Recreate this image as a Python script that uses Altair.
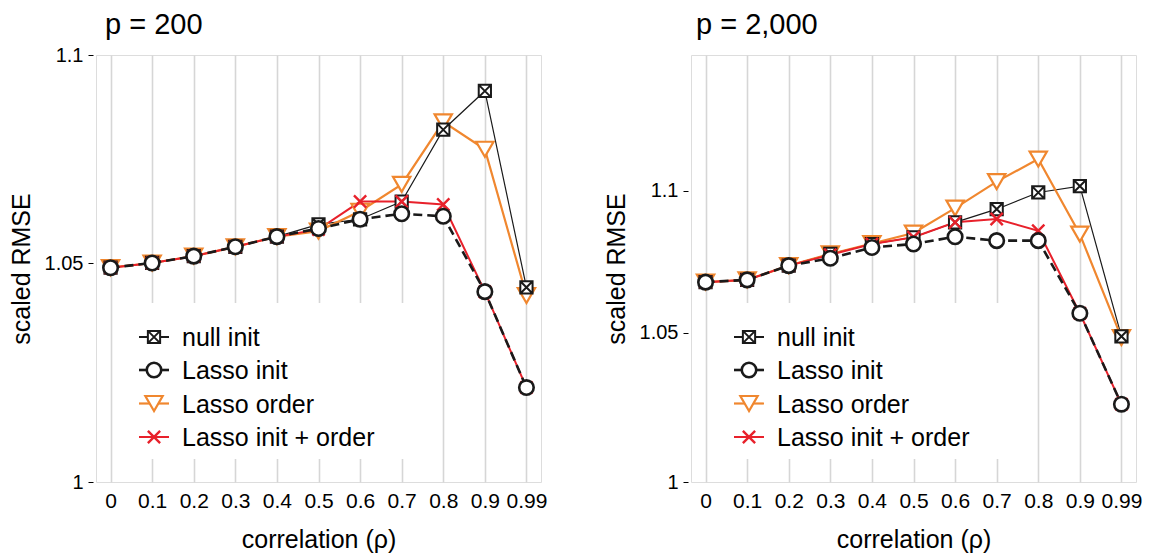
import altair as alt
import pandas as pd

FONT = "Liberation Sans"

rho_labels = ["0", "0.1", "0.2", "0.3", "0.4", "0.5", "0.6", "0.7", "0.8", "0.9", "0.99"]
series_names = ["null init", "Lasso init", "Lasso order", "Lasso init + order"]

# p = 200
p200_null_init = [1.0490, 1.0501, 1.0517, 1.0539, 1.0563, 1.0592, 1.0604, 1.0646, 1.0818, 1.0912, 1.0444]
p200_lasso_init = [1.0490, 1.0501, 1.0517, 1.0539, 1.0563, 1.0582, 1.0604, 1.0617, 1.0611, 1.0434, 1.0213]
p200_lasso_order = [1.0490, 1.0501, 1.0517, 1.0539, 1.0563, 1.0576, 1.0623, 1.0687, 1.0837, 1.0771, 1.0425]
p200_init_order = [1.0490, 1.0501, 1.0517, 1.0539, 1.0563, 1.0580, 1.0646, 1.0646, 1.0639, 1.0434, 1.0213]

# p = 2,000
p2000_null_init = [1.0676, 1.0684, 1.0734, 1.0775, 1.0810, 1.0834, 1.0887, 1.0934, 1.0994, 1.1017, 1.0488]
p2000_lasso_init = [1.0676, 1.0684, 1.0734, 1.0760, 1.0798, 1.0810, 1.0836, 1.0822, 1.0822, 1.0568, 1.0258]
p2000_lasso_order = [1.0676, 1.0684, 1.0734, 1.0775, 1.0812, 1.0849, 1.0938, 1.1033, 1.1115, 1.0845, 1.0484]
p2000_init_order = [1.0676, 1.0684, 1.0734, 1.0772, 1.0810, 1.0834, 1.0887, 1.0899, 1.0857, 1.0568, 1.0258]

y_ticks = [1, 1.05, 1.1]

BLACK = "#1a1a1a"
ORANGE = "#F0872F"
RED = "#E8212B"

SQ_X = "M-1,-1L1,-1L1,1L-1,1Z M-1,-1L1,1 M1,-1L-1,1"
X_SHAPE = "M-1,-1L1,1 M1,-1L-1,1"

styles = {
    "null init": dict(color=BLACK, lw=1.2, dash=None, shape=SQ_X, size=150, sw=2.0, fill="white"),
    "Lasso init": dict(color=BLACK, lw=2.6, dash=[9, 5], shape="circle", size=210, sw=2.6, fill="white"),
    "Lasso order": dict(color=ORANGE, lw=2.2, dash=None, shape="triangle-down", size=300, sw=2.2, fill="white"),
    "Lasso init + order": dict(color=RED, lw=2.0, dash=None, shape=X_SHAPE, size=150, sw=2.4, fill=None),
}

W, H = 445, 427


def panel(title, title_dx, series_values, top):
    x_enc = alt.X(
        "rho:O", sort=rho_labels,
        scale=alt.Scale(type="point", padding=0.35),
        axis=alt.Axis(title="correlation (ρ)", labelAngle=0, grid=True, gridColor="#D6D6D6",
                      gridWidth=1.6, ticks=False, domain=False, labelFontSize=21,
                      titleFontSize=25, titleFontWeight="normal", labelPadding=8,
                      titleBaseline="alphabetic", titleY=65, titleX=W / 2,
                      labelColor="black", titleColor="black"),
    )
    y_enc = alt.Y(
        "value:Q",
        scale=alt.Scale(type="log", domain=[1, top], nice=False, zero=False),
        axis=alt.Axis(title="scaled RMSE", values=y_ticks, format="~g", grid=False, domain=False,
                      offset=3, tickSize=5, tickColor="black", tickWidth=1, labelFontSize=20,
                      labelPadding=5, titleFontSize=25, titleFontWeight="normal",
                      titleAngle=270, titleBaseline="alphabetic", titleX=-64, titleY=H / 2,
                      labelColor="black", titleColor="black"),
    )
    frames = {}
    for name, vals in zip(series_names, series_values):
        frames[name] = pd.DataFrame({"rho": rho_labels, "value": vals, "series": name})

    layers = []
    # lines
    for name in ["null init", "Lasso order", "Lasso init + order", "Lasso init"]:
        st = styles[name]
        kw = dict(color=st["color"], strokeWidth=st["lw"])
        if st["dash"]:
            kw["strokeDash"] = st["dash"]
        layers.append(alt.Chart(frames[name]).mark_line(**kw).encode(x=x_enc, y=y_enc))
    # points
    for name in ["Lasso order", "null init", "Lasso init + order", "Lasso init"]:
        st = styles[name]
        kw = dict(shape=st["shape"], size=st["size"], stroke=st["color"], strokeWidth=st["sw"], opacity=1)
        if st["fill"]:
            kw.update(fill=st["fill"], fillOpacity=1, filled=True)
        else:
            kw.update(filled=False)
        layers.append(alt.Chart(frames[name]).mark_point(**kw).encode(x=x_enc, y=y_enc))

    one = pd.DataFrame({"k": [0]})
    # panel title
    layers.append(alt.Chart(one).mark_text(align="left", baseline="alphabetic", fontSize=29,
                                           font=FONT, color="black").encode(
        x=alt.value(title_dx), y=alt.value(-21), text=alt.value(title)))
    # legend box
    layers.append(alt.Chart(one).mark_rect(fill="white", stroke=None).encode(
        x=alt.value(17), x2=alt.value(330), y=alt.value(248), y2=alt.value(404)))
    row_y = [282, 315, 348.5, 382]
    sx, tx = 58, 86
    for name, ry in zip(series_names, row_y):
        st = styles[name]
        rkw = dict(color=st["color"], strokeWidth=max(st["lw"], 2.0))
        if st["dash"]:
            rkw["strokeWidth"] = st["lw"]
        layers.append(alt.Chart(one).mark_rule(**rkw).encode(
            x=alt.value(sx - 15), x2=alt.value(sx + 15), y=alt.value(ry)))
        kw = dict(shape=st["shape"], size=st["size"], stroke=st["color"], strokeWidth=st["sw"], opacity=1)
        if st["fill"]:
            kw.update(fill=st["fill"], fillOpacity=1, filled=True)
        else:
            kw.update(filled=False)
        layers.append(alt.Chart(one).mark_point(**kw).encode(x=alt.value(sx), y=alt.value(ry)))
        layers.append(alt.Chart(one).mark_text(align="left", baseline="middle", fontSize=25,
                                               font=FONT, color="black").encode(
            x=alt.value(tx), y=alt.value(ry + 1), text=alt.value(name)))

    return alt.layer(*layers).properties(width=W, height=H)


left = panel("p = 200", 9, [p200_null_init, p200_lasso_init, p200_lasso_order, p200_init_order], 1.1)
right = panel("p = 2,000", 5, [p2000_null_init, p2000_lasso_init, p2000_lasso_order, p2000_init_order], 1.15)

chart = alt.hconcat(left, right, spacing=55).properties(
    padding={"left": 0, "top": 2, "right": 0, "bottom": 0}
).configure_view(stroke=None).configure(font=FONT).configure_axis(labelFont=FONT, titleFont=FONT)

chart.save("out.html", embed_options={"renderer": "svg", "actions": False})
